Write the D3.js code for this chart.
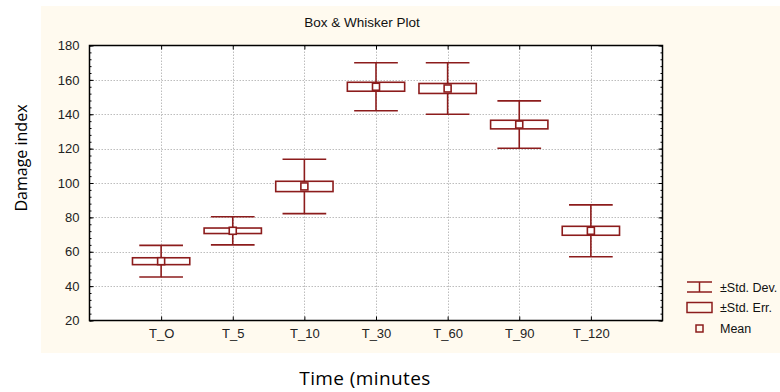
<!DOCTYPE html>
<html>
<head>
<meta charset="utf-8">
<script src="https://cdn.jsdelivr.net/npm/d3@7"></script>
<style>
  body { margin: 0; background: #fff; }
  svg { display: block; }
  .axis text { font-family: "Liberation Sans", Arial, sans-serif; font-size: 13px; fill: #222; }
  .axis path, .axis line { stroke: #000; }
</style>
</head>
<body>
<svg id="chart" width="780" height="392"></svg>
<script>
// chart data
const categories = ["T_O", "T_5", "T_10", "T_30", "T_60", "T_90", "T_120"];
const means  = [54.5, 72.2, 98.0, 156.0, 155.0, 134.0, 72.2];
const stdErr = [2.0, 1.6, 3.0, 2.6, 2.9, 2.5, 2.6];
const stdDev = [9.2, 8.2, 15.8, 14.0, 15.0, 13.8, 15.1];
const yTicks = [20, 40, 60, 80, 100, 120, 140, 160, 180];
const legendLabels = ["\u00b1Std. Dev.", "\u00b1Std. Err.", "Mean"];

const color = "#8c1c1c";
const svg = d3.select("#chart");

// panel background
svg.append("rect")
  .attr("x", 41).attr("y", 6)
  .attr("width", 739).attr("height", 347)
  .attr("fill", "#fffaef");

const plotL = 89.5, plotR = 662.5, plotT = 45.5, plotB = 320.5;

let x = d3.scaleLinear().domain([0, categories.length + 1]).range([plotL, plotR]);
let y = d3.scaleLinear().domain([20, 180]).range([plotB, plotT]);
let slot = x(1) - x(0);

svg.append("rect")
  .attr("x", plotL).attr("y", plotT)
  .attr("width", plotR - plotL).attr("height", plotB - plotT)
  .attr("fill", "#fff");

// grid
let grid = svg.append("g").attr("stroke", "#bdbdbd").attr("stroke-dasharray", "1.5,1.5").attr("stroke-width", 1);
grid.selectAll("line.h").data(yTicks.slice(1, -1)).join("line")
  .attr("x1", plotL).attr("x2", plotR)
  .attr("y1", d => Math.round(y(d)) + 0.5).attr("y2", d => Math.round(y(d)) + 0.5);
grid.selectAll("line.v").data(categories).join("line")
  .attr("y1", plotT).attr("y2", plotB)
  .attr("x1", (d, i) => Math.round(x(i + 1)) + 0.5).attr("x2", (d, i) => Math.round(x(i + 1)) + 0.5);

// axes
let catScale = d3.scalePoint().domain(categories).range([x(1), x(categories.length)]);
let minor = d3.range(20, 181, 4);

svg.append("g").attr("class", "axis")
  .attr("transform", "translate(" + plotL + ",0)")
  .call(d3.axisLeft(y).tickValues(yTicks).tickSize(-4).tickPadding(10).tickSizeOuter(0));
svg.append("g").attr("class", "axis")
  .attr("transform", "translate(" + plotL + ",0)")
  .call(d3.axisLeft(y).tickValues(minor).tickSize(-2).tickFormat("").tickSizeOuter(0));
svg.append("g").attr("class", "axis")
  .attr("transform", "translate(" + plotR + ",0)")
  .call(d3.axisRight(y).tickValues(yTicks).tickSize(-4).tickFormat("").tickSizeOuter(0));
svg.append("g").attr("class", "axis")
  .attr("transform", "translate(" + plotR + ",0)")
  .call(d3.axisRight(y).tickValues(minor).tickSize(-2).tickFormat("").tickSizeOuter(0));
svg.append("g").attr("class", "axis")
  .attr("transform", "translate(0," + plotB + ")")
  .call(d3.axisBottom(catScale).tickSize(-4).tickPadding(8).tickSizeOuter(0));
svg.append("g").attr("class", "axis")
  .attr("transform", "translate(0," + plotT + ")")
  .call(d3.axisTop(catScale).tickSize(-4).tickFormat("").tickSizeOuter(0));

svg.selectAll(".axis path.domain").remove();

// frame
svg.append("rect")
  .attr("x", plotL).attr("y", plotT)
  .attr("width", plotR - plotL).attr("height", plotB - plotT)
  .attr("fill", "none").attr("stroke", "#000").attr("stroke-width", 1.5);

// box & whisker marks
let boxW = slot * 0.8, capW = slot * 0.61, meanS = 7;
let marks = svg.append("g").attr("stroke", color).attr("fill", "none").attr("stroke-width", 1.6);
let groups = marks.selectAll("g").data(categories).join("g");

groups.append("line")
  .attr("x1", (d, i) => x(i + 1)).attr("x2", (d, i) => x(i + 1))
  .attr("y1", (d, i) => y(means[i] + stdDev[i])).attr("y2", (d, i) => y(means[i] - stdDev[i]));
groups.append("line")
  .attr("x1", (d, i) => x(i + 1) - capW / 2).attr("x2", (d, i) => x(i + 1) + capW / 2)
  .attr("y1", (d, i) => y(means[i] + stdDev[i])).attr("y2", (d, i) => y(means[i] + stdDev[i]));
groups.append("line")
  .attr("x1", (d, i) => x(i + 1) - capW / 2).attr("x2", (d, i) => x(i + 1) + capW / 2)
  .attr("y1", (d, i) => y(means[i] - stdDev[i])).attr("y2", (d, i) => y(means[i] - stdDev[i]));
groups.append("rect")
  .attr("fill", "#fff")
  .attr("x", (d, i) => x(i + 1) - boxW / 2).attr("width", boxW)
  .attr("y", (d, i) => y(means[i] + stdErr[i]))
  .attr("height", (d, i) => y(means[i] - stdErr[i]) - y(means[i] + stdErr[i]));
groups.append("rect")
  .attr("fill", "#fff")
  .attr("x", (d, i) => x(i + 1) - meanS / 2).attr("width", meanS)
  .attr("y", (d, i) => y(means[i]) - meanS / 2).attr("height", meanS);

// title
svg.append("text")
  .attr("x", 362).attr("y", 27)
  .attr("text-anchor", "middle")
  .attr("font-family", "Liberation Sans, Arial, sans-serif")
  .attr("font-size", 13.5).attr("fill", "#111")
  .text("Box & Whisker Plot");

// axis titles
svg.append("text")
  .attr("transform", "translate(27,158) rotate(-90)")
  .attr("text-anchor", "middle")
  .attr("font-family", "Open Sans, sans-serif")
  .attr("font-size", 16).attr("fill", "#000")
  .text("Damage index");
svg.append("text")
  .attr("x", 365).attr("y", 385)
  .attr("text-anchor", "middle")
  .attr("font-family", "Open Sans, sans-serif")
  .attr("font-size", 19).attr("letter-spacing", 0.4).attr("fill", "#000")
  .text("Time (minutes");

// legend
let legend = svg.append("g");
let lx = 687, lw = 25, rows = [287, 307.5, 328.5];
legend.append("line").attr("x1", lx).attr("x2", lx + lw).attr("y1", rows[0] - 5).attr("y2", rows[0] - 5);
legend.append("line").attr("x1", lx).attr("x2", lx + lw).attr("y1", rows[0] + 5).attr("y2", rows[0] + 5);
legend.append("line").attr("x1", lx + lw / 2).attr("x2", lx + lw / 2).attr("y1", rows[0] - 5).attr("y2", rows[0] + 5);
legend.append("rect").attr("x", lx).attr("y", rows[1] - 5).attr("width", lw).attr("height", 10).attr("fill", "#fff");
legend.append("rect").attr("x", lx + lw / 2 - 3.5).attr("y", rows[2] - 3.5).attr("width", 7).attr("height", 7).attr("fill", "#fff");
legend.selectAll("line,rect").attr("stroke", color).attr("stroke-width", 1.5).attr("fill", "none");
legend.selectAll("text").data(legendLabels).join("text")
  .attr("x", 720).attr("y", (d, i) => rows[i] + 4.5)
  .attr("font-family", "Liberation Sans, Arial, sans-serif")
  .attr("font-size", 12.5).attr("fill", "#111")
  .text(d => d);
</script>
</body>
</html>
